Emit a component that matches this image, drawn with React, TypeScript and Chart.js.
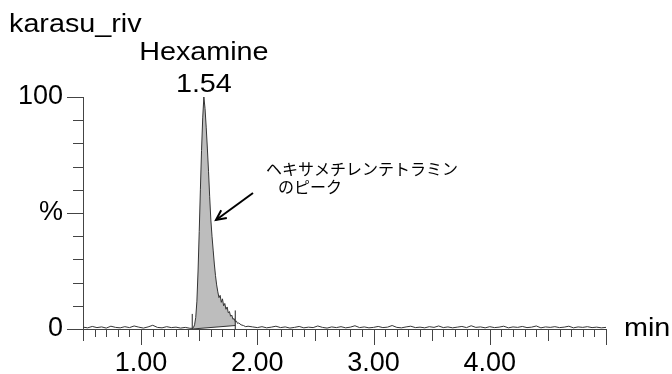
import { useEffect, useRef } from 'react';
import { Chart, registerables } from 'chart.js';

Chart.register(...registerables);

// ---- data ----
const sampleName = 'karasu_riv';
const peakName = 'Hexamine';
const peakTimeLabel = '1.54';
const peakApexTime = 1.54;
const noteLines = ['ヘキサメチレンテトラミン', 'のピーク'];
const xUnit = 'min';

const times = [
  0.50, 0.54, 0.58, 0.62, 0.66, 0.70, 0.74, 0.78, 0.82, 0.86, 0.90, 0.94, 0.98, 1.02, 1.06, 1.10,
  1.14, 1.18, 1.22, 1.26, 1.30, 1.34, 1.38, 1.42,
  1.44, 1.45, 1.46, 1.47, 1.48, 1.49, 1.50, 1.51, 1.52, 1.53, 1.54, 1.55, 1.56, 1.57, 1.58, 1.59,
  1.60, 1.61, 1.62, 1.63, 1.64, 1.65, 1.66, 1.67, 1.68, 1.69, 1.70, 1.71, 1.72, 1.73, 1.74, 1.75,
  1.76, 1.77, 1.78, 1.79, 1.80, 1.81, 1.82, 1.83, 1.84, 1.86, 1.88, 1.90, 1.92,
  1.96, 2.00, 2.04, 2.08, 2.12, 2.16, 2.20, 2.24, 2.28, 2.32, 2.36, 2.40, 2.44, 2.48, 2.52, 2.56,
  2.60, 2.64, 2.68, 2.72, 2.76, 2.80, 2.84, 2.88, 2.92, 2.96, 3.00, 3.04, 3.08, 3.12, 3.16, 3.20,
  3.24, 3.28, 3.32, 3.36, 3.40, 3.44, 3.48, 3.52, 3.56, 3.60, 3.64, 3.68, 3.72, 3.76, 3.80, 3.84,
  3.88, 3.92, 3.96, 4.00, 4.04, 4.08, 4.12, 4.16, 4.20, 4.24, 4.28, 4.32, 4.36, 4.40, 4.44, 4.48,
  4.52, 4.56, 4.60, 4.64, 4.68, 4.72, 4.76, 4.80, 4.84, 4.88, 4.92, 4.96, 5.00,
];

const intensity = [
  0.8, 0.5, 1.1, 0.6, 0.9, 0.4, 1.2, 0.7, 0.5, 1.0, 0.6, 1.3, 0.8, 0.4, 0.9, 1.6,
  0.7, 0.5, 1.0, 0.6, 0.8, 0.4, 0.7, 0.3,
  0.3, 0.6, 1.8, 5, 12, 25, 42, 60, 77, 91, 100, 95, 87, 78, 68, 57,
  47, 40, 34, 28, 23, 19, 16, 13.5, 14.5, 11.5, 13, 10, 11, 8.5, 9.5, 7,
  7.5, 5.5, 6, 4.2, 4.5, 3.2, 3.4, 2.4, 2.6, 1.8, 1.5, 1.0, 1.2,
  0.9, 0.6, 1.0, 0.5, 0.8, 1.2, 0.6, 0.9, 0.4, 0.7, 1.1, 0.5, 0.8, 0.6, 1.3, 0.7,
  0.4, 0.9, 0.6, 1.0, 0.5, 0.8, 1.4, 0.6, 0.9, 0.5, 0.7, 1.1, 0.6, 0.8, 1.5, 0.7,
  0.5, 0.9, 1.2, 0.6, 0.8, 0.5, 1.0, 0.7, 1.3, 0.6, 0.9, 0.5, 0.8, 1.1, 0.6, 1.4,
  0.7, 0.9, 0.5, 1.0, 0.6, 0.8, 1.2, 0.5, 0.9, 0.7, 1.1, 0.6, 0.8, 1.3, 0.5, 0.9,
  0.7, 1.0, 0.6, 0.8, 1.2, 0.5, 0.9, 0.7, 1.0, 0.6, 0.8, 0.5, 0.7,
];

// integration markers / baseline
const peakStart = 1.44;
const peakEnd = 1.81;
const integrationBaseline = [0, 1.5];
const markerHeights = [6.5, 8];

// axes
const xMin = 0.5;
const xMax = 5.0;
const xLabelValues = [1, 2, 3, 4];
const xLabelTexts = ['1.00', '2.00', '3.00', '4.00'];
const yLabelValues = [0, 50, 100];
const yLabelTexts = ['0', '%', '100'];

const FONT = 'Arial, "Liberation Sans", Helvetica, sans-serif';
const JP_FONT = '"Noto Sans CJK JP", "Noto Sans CJK SC", sans-serif';
const AXIS = '#444444';

function stretchedText(ctx: CanvasRenderingContext2D, text: string, x: number, y: number, sx: number, align: CanvasTextAlign) {
  ctx.save();
  ctx.translate(x, y);
  ctx.scale(sx, 1);
  ctx.textAlign = align;
  ctx.fillText(text, 0, 0);
  ctx.restore();
}

const decorPlugin = {
  id: 'decor',
  afterDraw(chart: any) {
    const ctx: CanvasRenderingContext2D = chart.ctx;
    const xs = chart.scales.x;
    const ys = chart.scales.y;
    const area = chart.chartArea;
    ctx.save();
    ctx.strokeStyle = AXIS;
    ctx.lineWidth = 1;
    // y tick marks (every 10 %)
    for (let v = 0; v <= 100; v += 10) {
      const py = Math.round(ys.getPixelForValue(v)) + 0.5;
      const len = v % 50 === 0 ? 16 : 10;
      ctx.beginPath();
      ctx.moveTo(area.left - len, py);
      ctx.lineTo(area.left, py);
      ctx.stroke();
    }
    // x tick marks (every 0.1 min)
    for (let i = 5; i <= 50; i++) {
      const v = i / 10;
      const px = Math.round(xs.getPixelForValue(v)) + 0.5;
      const len = i % 10 === 0 ? 16 : i % 5 === 0 ? 12 : 8;
      ctx.beginPath();
      ctx.moveTo(px, area.bottom);
      ctx.lineTo(px, area.bottom + len);
      ctx.stroke();
    }
    // texts
    ctx.fillStyle = '#000';
    ctx.textBaseline = 'alphabetic';
    ctx.font = `25px ${FONT}`;
    stretchedText(ctx, sampleName, 9, 32, 1.15, 'left');
    const apexX = xs.getPixelForValue(peakApexTime);
    stretchedText(ctx, peakName, apexX, 60, 1.15, 'center');
    stretchedText(ctx, peakTimeLabel, apexX, 92, 1.15, 'center');
    ctx.textBaseline = 'middle';
    stretchedText(ctx, xUnit, 624, area.bottom, 1.15, 'left');
    // Japanese note
    ctx.textBaseline = 'alphabetic';
    ctx.font = `16px ${JP_FONT}`;
    ctx.textAlign = 'left';
    ctx.fillText(noteLines[0], 266, 175);
    ctx.fillText(noteLines[1], 278, 193);
    // arrow
    ctx.strokeStyle = '#000';
    ctx.lineWidth = 2;
    const x0 = 253, y0 = 193, x1 = 216, y1 = 220;
    ctx.beginPath();
    ctx.moveTo(x0, y0);
    ctx.lineTo(x1, y1);
    ctx.stroke();
    const ang = Math.atan2(y1 - y0, x1 - x0);
    const head = 11;
    ctx.beginPath();
    ctx.moveTo(x1 - head * Math.cos(ang - 0.45), y1 - head * Math.sin(ang - 0.45));
    ctx.lineTo(x1, y1);
    ctx.lineTo(x1 - head * Math.cos(ang + 0.45), y1 - head * Math.sin(ang + 0.45));
    ctx.stroke();
    ctx.restore();
  },
};

export default function App() {
  const ref = useRef<HTMLCanvasElement | null>(null);
  useEffect(() => {
    document.body.style.margin = '0';
    const canvas = ref.current;
    if (!canvas) return;
    const trace = times.map((t, i) => ({ x: t, y: intensity[i] }));
    const peakArea = trace.filter((p) => p.x >= peakStart && p.x <= peakEnd);
    const chart = new Chart(canvas, {
      type: 'line',
      data: {
        datasets: [
          {
            label: 'trace',
            data: trace,
            borderColor: '#333333',
            borderWidth: 1,
            pointRadius: 0,
            fill: false,
            tension: 0,
            order: 0,
          },
          {
            label: 'area',
            data: peakArea,
            borderColor: 'rgba(0,0,0,0)',
            borderWidth: 0,
            backgroundColor: '#bdbdbd',
            pointRadius: 0,
            fill: { target: 2 },
            tension: 0,
            order: 3,
          },
          {
            label: 'baseline',
            data: [
              { x: peakStart, y: integrationBaseline[0] },
              { x: peakEnd, y: integrationBaseline[1] },
            ],
            borderColor: '#333333',
            borderWidth: 1,
            pointRadius: 0,
            fill: false,
            order: 1,
          },
          {
            label: 'startMarker',
            data: [
              { x: peakStart, y: 0 },
              { x: peakStart, y: markerHeights[0] },
            ],
            borderColor: '#222222',
            borderWidth: 1,
            pointRadius: 0,
            fill: false,
            order: 1,
          },
          {
            label: 'endMarker',
            data: [
              { x: peakEnd, y: 0 },
              { x: peakEnd, y: markerHeights[1] },
            ],
            borderColor: '#222222',
            borderWidth: 1,
            pointRadius: 0,
            fill: false,
            order: 1,
          },
        ],
      },
      options: {
        animation: false,
        responsive: false,
        devicePixelRatio: 1,
        layout: { padding: { top: 97, right: 66, left: 0, bottom: 0 } },
        plugins: { legend: { display: false }, tooltip: { enabled: false } },
        scales: {
          x: {
            type: 'linear',
            min: xMin,
            max: xMax,
            grid: { display: false, drawTicks: false },
            border: { display: true, color: AXIS, width: 1 },
            afterBuildTicks: (s: any) => {
              s.ticks = xLabelValues.map((v) => ({ value: v }));
            },
            afterFit: (s: any) => {
              s.height = 45;
            },
            ticks: {
              autoSkip: false,
              maxRotation: 0,
              padding: 18,
              color: '#000',
              font: { family: FONT, size: 27 },
              callback: (v: any) => {
                const i = xLabelValues.indexOf(Number(v));
                return i >= 0 ? xLabelTexts[i] : '';
              },
            },
          },
          y: {
            type: 'linear',
            min: 0,
            max: 100,
            grid: { display: false, drawTicks: false },
            border: { display: true, color: AXIS, width: 1 },
            afterBuildTicks: (s: any) => {
              s.ticks = yLabelValues.map((v) => ({ value: v }));
            },
            afterFit: (s: any) => {
              s.width = 83;
            },
            ticks: {
              padding: 20,
              color: '#000',
              font: { family: FONT, size: 27 },
              callback: (v: any) => {
                const i = yLabelValues.indexOf(Number(v));
                return i >= 0 ? yLabelTexts[i] : '';
              },
            },
          },
        },
      },
      plugins: [decorPlugin],
    });
    return () => chart.destroy();
  }, []);
  return (
    <div style={{ width: 672, height: 374, background: '#fff' }}>
      <canvas ref={ref} width={672} height={374} style={{ display: 'block' }} />
    </div>
  );
}
